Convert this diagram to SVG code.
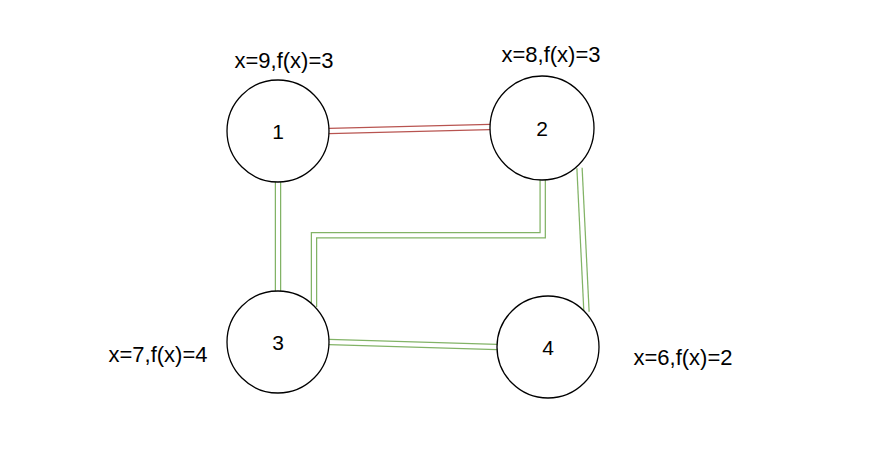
<svg xmlns="http://www.w3.org/2000/svg" width="871" height="457" viewBox="0 0 871 457">
<style>
.n{fill:#fff;stroke:#000;stroke-width:1.3}
.t{font-family:"Liberation Sans",Arial,sans-serif;font-size:22px;fill:#000;text-anchor:middle}
.d{font-family:"Liberation Sans",Arial,sans-serif;font-size:21px;fill:#000;text-anchor:middle}
.g{fill:none;stroke:#82b366;stroke-width:6.5}
.r{fill:none;stroke:#b85450;stroke-width:6.5}
.w{fill:none;stroke:#fff;stroke-width:4}
</style>
<rect width="871" height="457" fill="#fff"/>
<g id="edges">
<path class="r" d="M329,131 L490,127"/><path class="w" d="M329,131 L490,127"/>
<path class="g" d="M278,182 L278,291"/><path class="w" d="M278,182 L278,291"/>
<path class="g" d="M542.7,178 L542.7,235.3 L314,235.3 L314,307"/><path class="w" d="M542.7,178 L542.7,235.3 L314,235.3 L314,307"/>
<path class="g" d="M579.5,168 L586.5,312"/><path class="w" d="M579.5,168 L586.5,312"/>
<path class="g" d="M329,342 L497,347"/><path class="w" d="M329,342 L497,347"/>
</g>
<g id="node1"><circle class="n" cx="278" cy="131" r="51"/><text class="d" x="278" y="138.5">1</text></g>
<g id="node2"><circle class="n" cx="542" cy="128" r="52"/><text class="d" x="542" y="135.5">2</text></g>
<g id="node3"><circle class="n" cx="278" cy="342" r="51"/><text class="d" x="278" y="349.5">3</text></g>
<g id="node4"><circle class="n" cx="548" cy="347" r="51"/><text class="d" x="548" y="354.5">4</text></g>
<g id="labels">
<text class="t" x="284" y="68">x=9,f(x)=3</text>
<text class="t" x="551" y="62">x=8,f(x)=3</text>
<text class="t" x="158" y="362">x=7,f(x)=4</text>
<text class="t" x="683" y="365">x=6,f(x)=2</text>
</g>
</svg>
